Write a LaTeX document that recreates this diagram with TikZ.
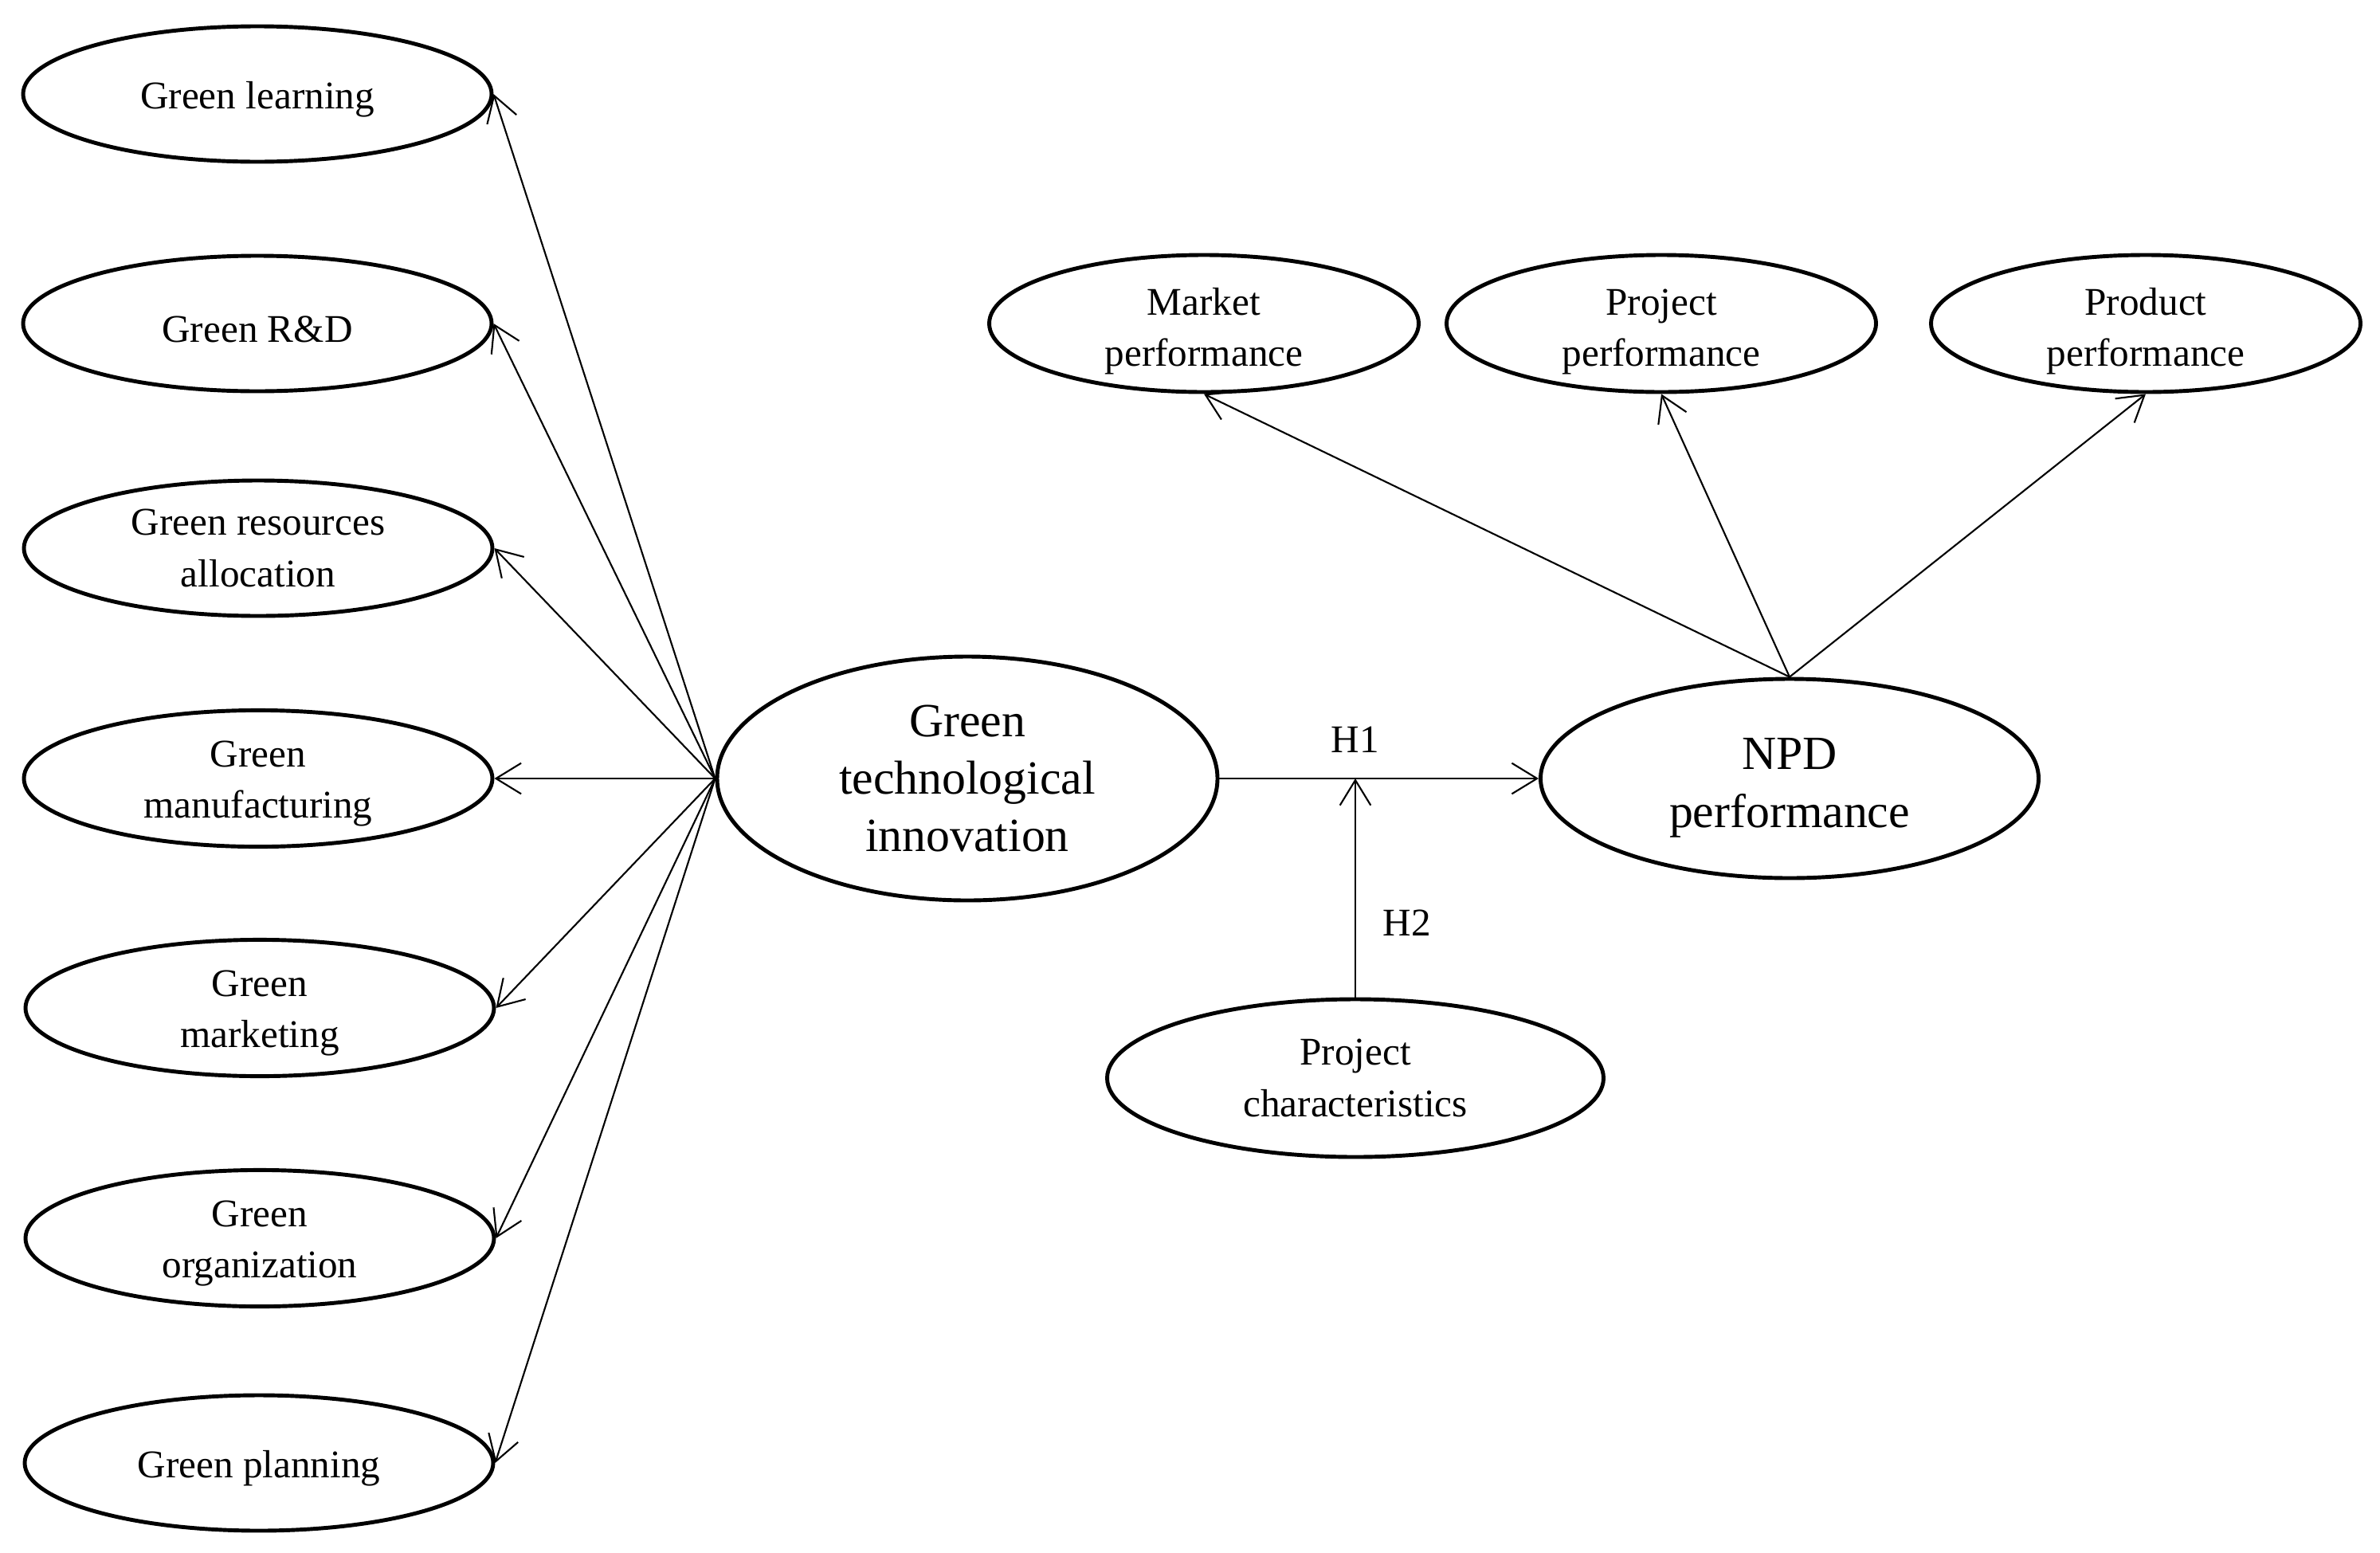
\documentclass[tikz,border=0pt]{standalone}
\usepackage{fontspec}
\setmainfont{Liberation Serif}
\usetikzlibrary{shapes.geometric,arrows.meta}

\newcommand{\lift}[1]{\rule{0pt}{#1}}

\tikzset{
  item/.style={draw, ellipse, line width=1.4pt, inner sep=0pt, align=center,
    font=\fontsize{14}{18.4}\selectfont},
  leftitem/.style={item, minimum width=5.88cm, minimum height=1.70cm},
  perfitem/.style={item, inner ysep=-1.3pt, minimum width=5.39cm, minimum height=1.72cm},
  bigitem/.style={item, font=\fontsize{17}{20.5}\selectfont},
  link/.style={->, line width=0.6pt}
}

\begin{document}
\begin{tikzpicture}[>={Straight Barb[length=9pt,width=11pt]}]
\useasboundingbox (0,0) rectangle (29.87,-19.48);

\node[leftitem] (learn) at (3.23,-1.18) {\lift{0.98em}Green learning};
\node[leftitem] (rd) at (3.23,-4.06) {\lift{0.98em}Green R\&D};
\node[leftitem] (alloc) at (3.24,-6.88) {Green resources\\allocation};
\node[leftitem] (manuf) at (3.24,-9.77) {\lift{0.93em}Green\\manufacturing};
\node[leftitem] (mkt) at (3.26,-12.65) {\lift{0.93em}Green\\marketing};
\node[leftitem] (org) at (3.26,-15.54) {\lift{0.93em}Green\\organization};
\node[leftitem] (plan) at (3.25,-18.36) {\lift{0.98em}Green planning};

\node[bigitem, minimum width=6.28cm, minimum height=3.06cm] (gti) at (12.14,-9.77) {Green\\technological\\innovation};
\node[bigitem, minimum width=6.25cm, minimum height=2.50cm] (npd) at (22.46,-9.77) {\lift{1.05em}NPD\\performance};

\node[perfitem] (market) at (15.11,-4.06) {\lift{1.08em}Market\\performance};
\node[perfitem] (project) at (20.85,-4.06) {\lift{1.08em}Project\\performance};
\node[perfitem] (product) at (26.93,-4.06) {\lift{1.08em}Product\\performance};

\node[item, minimum width=6.23cm, minimum height=1.98cm] (pc) at (17.01,-13.53) {Project\\characteristics};

\draw[link] (gti.west) -- (learn.east);
\draw[link] (gti.west) -- (rd.east);
\draw[link] (gti.west) -- (alloc.east);
\draw[link] (gti.west) -- (manuf.east);
\draw[link] (gti.west) -- (mkt.east);
\draw[link] (gti.west) -- (org.east);
\draw[link] (gti.west) -- (plan.east);

\draw[link] (npd.north) -- (market.south);
\draw[link] (npd.north) -- (project.south);
\draw[link] (npd.north) -- (product.south);

\coordinate (meet) at (pc.north |- gti.east);
\draw[link] (gti.east) -- (npd.west);
\node[font=\fontsize{14}{17}\selectfont] (h1) at (17.01,-9.28) {H1};
\draw[link] (pc.north) -- (meet);
\node[font=\fontsize{14}{17}\selectfont] (h2) at (17.66,-11.58) {H2};
\end{tikzpicture}
\end{document}
